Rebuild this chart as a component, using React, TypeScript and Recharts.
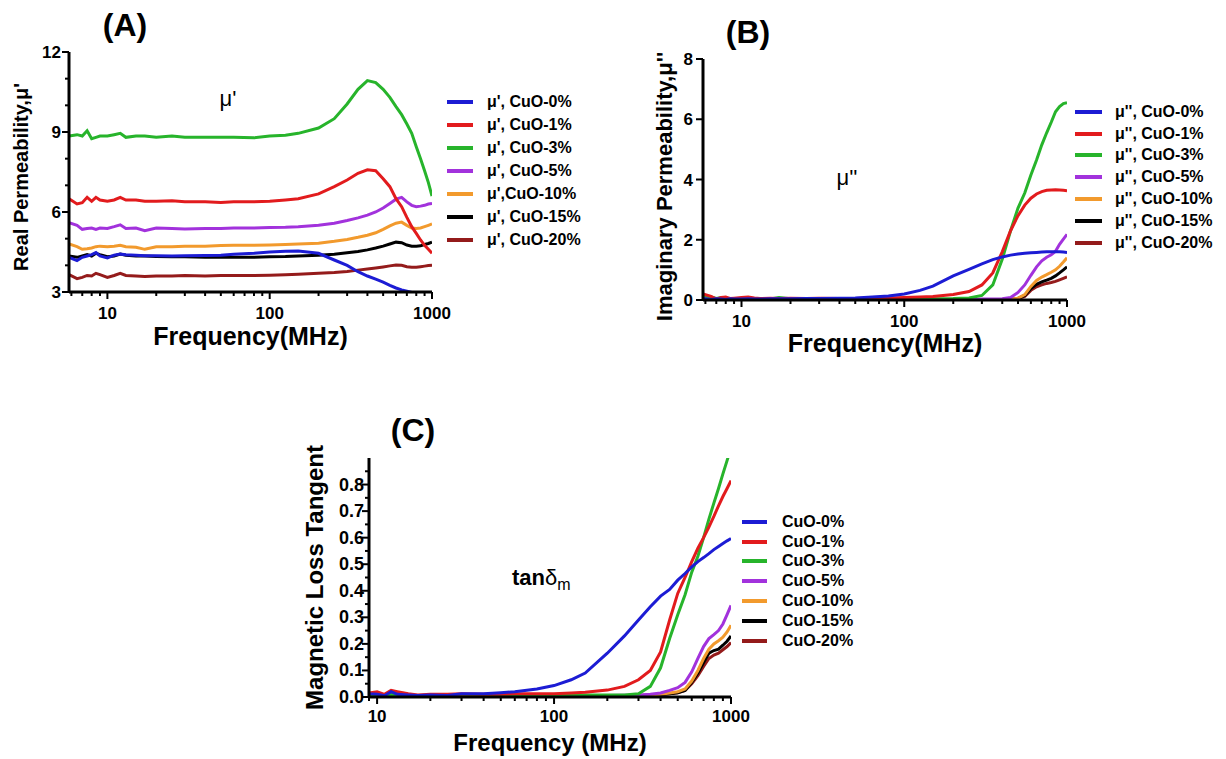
import { Legend, Line, LineChart, XAxis, YAxis } from "recharts";

const FONT = "Arial, 'Liberation Sans', Helvetica, sans-serif";

// frequency grid (MHz), shared by the three panels
const freq = [5.8, 6.5, 7, 7.5, 8, 8.5, 9, 10, 11, 12, 13, 15, 17, 20, 25, 30, 40, 50, 60, 80, 100, 125, 150, 200, 250, 300, 350, 400, 450, 500, 550, 600, 650, 700, 750, 800, 850, 900, 950, 1000];

const names = ["CuO-0%", "CuO-1%", "CuO-3%", "CuO-5%", "CuO-10%", "CuO-15%", "CuO-20%"];
const colors = ["#1c1cd4", "#e21b1d", "#27b42b", "#a232dc", "#f29a2d", "#000000", "#941b1b"];

const legendA = ["μ', CuO-0%", "μ', CuO-1%", "μ', CuO-3%", "μ', CuO-5%", "μ',CuO-10%", "μ', CuO-15%", "μ', CuO-20%"];
const legendB = ["μ'', CuO-0%", "μ'', CuO-1%", "μ'', CuO-3%", "μ'', CuO-5%", "μ'', CuO-10%", "μ'', CuO-15%", "μ'', CuO-20%"];

// (A) real permeability μ'
const realCu0 = [4.3, 4.18, 4.3, 4.35, 4.4, 4.48, 4.35, 4.28, 4.38, 4.42, 4.4, 4.38, 4.36, 4.36, 4.35, 4.36, 4.37, 4.38, 4.42, 4.45, 4.5, 4.53, 4.54, 4.45, 4.2, 4.0, 3.76, 3.6, 3.48, 3.37, 3.25, 3.15, 3.08, 3.03, 2.98, 2.9, 2.82, 2.74, 2.66, 2.58];
const realCu1 = [6.5, 6.3, 6.35, 6.55, 6.4, 6.55, 6.45, 6.4, 6.45, 6.55, 6.45, 6.45, 6.4, 6.4, 6.42, 6.38, 6.38, 6.36, 6.38, 6.38, 6.4, 6.45, 6.5, 6.68, 6.95, 7.2, 7.45, 7.58, 7.55, 7.25, 6.95, 6.5, 6.2, 5.8, 5.45, 5.2, 4.95, 4.75, 4.6, 4.45];
const realCu3 = [8.85, 8.9, 8.85, 9.05, 8.75, 8.8, 8.85, 8.85, 8.9, 8.95, 8.8, 8.85, 8.85, 8.8, 8.85, 8.8, 8.8, 8.8, 8.8, 8.78, 8.85, 8.88, 8.95, 9.15, 9.5, 10.05, 10.6, 10.93, 10.85, 10.6, 10.3, 9.95, 9.65, 9.3, 8.95, 8.45, 8.0, 7.55, 7.1, 6.6];
const realCu5 = [5.6, 5.5, 5.35, 5.38, 5.4, 5.35, 5.4, 5.38, 5.45, 5.52, 5.38, 5.4, 5.3, 5.4, 5.38, 5.36, 5.38, 5.38, 5.4, 5.4, 5.42, 5.43, 5.45, 5.5, 5.58, 5.68, 5.78, 5.88, 6.0, 6.15, 6.32, 6.48, 6.55, 6.38, 6.25, 6.2, 6.22, 6.25, 6.3, 6.32];
const realCu10 = [4.8, 4.7, 4.6, 4.62, 4.65, 4.7, 4.72, 4.7, 4.72, 4.75, 4.7, 4.68, 4.6, 4.7, 4.7, 4.72, 4.72, 4.74, 4.75, 4.75, 4.76, 4.78, 4.8, 4.83, 4.9, 4.97, 5.05, 5.13, 5.22, 5.35, 5.48, 5.58, 5.62, 5.5, 5.4, 5.38, 5.4, 5.45, 5.5, 5.55];
const realCu15 = [4.35, 4.3, 4.35, 4.4, 4.35, 4.45, 4.4, 4.32, 4.35, 4.42, 4.38, 4.35, 4.35, 4.33, 4.32, 4.32, 4.3, 4.3, 4.3, 4.3, 4.32, 4.33, 4.35, 4.38, 4.42, 4.47, 4.52, 4.58, 4.65, 4.72, 4.8, 4.87, 4.85, 4.76, 4.72, 4.72, 4.73, 4.78, 4.82, 4.87];
const realCu20 = [3.65, 3.5, 3.55, 3.62, 3.6, 3.7, 3.65, 3.55, 3.62, 3.7, 3.62, 3.6, 3.58, 3.6, 3.6, 3.62, 3.6, 3.62, 3.62, 3.62, 3.63, 3.65, 3.67, 3.7, 3.73, 3.77, 3.82, 3.86, 3.9, 3.94, 3.98, 4.01, 4.0, 3.95, 3.93, 3.93, 3.95, 3.97, 3.99, 4.0];

// (B) imaginary permeability μ''
const imagCu0 = [0.05, 0.02, 0.04, 0.03, 0.02, 0.04, 0.03, 0.03, 0.04, 0.03, 0.03, 0.04, 0.04, 0.04, 0.05, 0.05, 0.06, 0.07, 0.09, 0.13, 0.2, 0.32, 0.46, 0.8, 1.02, 1.2, 1.34, 1.43, 1.49, 1.53, 1.55, 1.57, 1.58, 1.59, 1.6, 1.6, 1.6, 1.6, 1.59, 1.58];
const imagCu1 = [0.2, 0.12, 0.03, 0.08, 0.1, 0.05, 0.06, 0.08, 0.1, 0.07, 0.05, 0.06, 0.05, 0.06, 0.05, 0.06, 0.05, 0.05, 0.06, 0.07, 0.08, 0.1, 0.12, 0.18, 0.28, 0.5, 0.9, 1.6, 2.3, 2.8, 3.15, 3.38, 3.52, 3.6, 3.64, 3.65, 3.66, 3.65, 3.64, 3.63];
const imagCu3 = [0.15, 0.1, 0.05, 0.08, 0.03, 0.05, 0.04, 0.05, 0.06, 0.04, 0.05, 0.03, 0.08, 0.04, 0.04, 0.03, 0.03, 0.03, 0.03, 0.03, 0.03, 0.03, 0.04, 0.05, 0.07, 0.15, 0.5, 1.35, 2.3, 3.05, 3.55, 4.15, 4.65, 5.15, 5.55, 5.9, 6.25, 6.42, 6.52, 6.55];
const imagCu5 = [0.1, 0.05, 0.03, 0.04, 0.02, 0.03, 0.03, 0.02, 0.03, 0.04, 0.02, 0.03, 0.02, 0.02, 0.02, 0.02, 0.02, 0.02, 0.02, 0.02, 0.02, 0.02, 0.02, 0.02, 0.02, 0.03, 0.03, 0.04, 0.08, 0.25, 0.5, 0.82, 1.1, 1.3, 1.42, 1.5, 1.62, 1.85, 2.02, 2.18];
const imagCu10 = [0.08, 0.04, 0.02, 0.03, 0.02, 0.02, 0.03, 0.02, 0.02, 0.03, 0.02, 0.02, 0.02, 0.02, 0.02, 0.02, 0.02, 0.02, 0.02, 0.02, 0.02, 0.02, 0.02, 0.02, 0.02, 0.02, 0.02, 0.02, 0.03, 0.06, 0.18, 0.45, 0.65, 0.76, 0.84, 0.92, 1.0, 1.12, 1.26, 1.4];
const imagCu15 = [0.06, 0.03, 0.02, 0.02, 0.02, 0.02, 0.02, 0.02, 0.02, 0.02, 0.02, 0.02, 0.02, 0.02, 0.02, 0.02, 0.02, 0.02, 0.02, 0.02, 0.02, 0.02, 0.02, 0.02, 0.02, 0.02, 0.02, 0.02, 0.02, 0.05, 0.15, 0.38, 0.52, 0.6, 0.66, 0.72, 0.8, 0.9, 1.0, 1.1];
const imagCu20 = [0.05, 0.03, 0.02, 0.02, 0.02, 0.02, 0.02, 0.02, 0.02, 0.02, 0.02, 0.02, 0.02, 0.02, 0.02, 0.02, 0.02, 0.02, 0.02, 0.02, 0.02, 0.02, 0.02, 0.02, 0.02, 0.02, 0.02, 0.02, 0.02, 0.04, 0.12, 0.32, 0.44, 0.5, 0.55, 0.58, 0.62, 0.67, 0.72, 0.77];

// (C) magnetic loss tangent
const tanCu0 = [0.01, 0.01, 0.01, 0.01, 0.01, 0.015, 0.012, 0.01, 0.005, 0.02, 0.01, 0.008, 0.006, 0.008, 0.006, 0.012, 0.012, 0.016, 0.02, 0.03, 0.043, 0.065, 0.09, 0.165, 0.23, 0.29, 0.34, 0.38, 0.405, 0.44, 0.465, 0.49, 0.51, 0.525, 0.54, 0.555, 0.567, 0.578, 0.588, 0.597];
const tanCu1 = [0.02, 0.015, 0.01, 0.02, 0.015, 0.01, 0.015, 0.02, 0.01, 0.025, 0.02, 0.012, 0.008, 0.01, 0.01, 0.012, 0.01, 0.01, 0.012, 0.012, 0.012, 0.015, 0.018, 0.026, 0.04, 0.065, 0.1, 0.17, 0.29, 0.39, 0.45, 0.51, 0.56, 0.6, 0.64, 0.68, 0.72, 0.755, 0.785, 0.815];
const tanCu3 = [0.01, 0.008, 0.01, 0.005, 0.008, 0.006, 0.008, 0.005, 0.006, 0.01, 0.008, 0.005, 0.004, 0.006, 0.005, 0.006, 0.004, 0.005, 0.005, 0.006, 0.006, 0.007, 0.008, 0.008, 0.008, 0.012, 0.04, 0.11, 0.22, 0.31, 0.385, 0.47, 0.53, 0.6, 0.67, 0.73, 0.785, 0.84, 0.89, 0.94];
const tanCu5 = [0.008, 0.005, 0.006, 0.005, 0.005, 0.004, 0.005, 0.005, 0.004, 0.006, 0.005, 0.004, 0.004, 0.004, 0.004, 0.004, 0.004, 0.004, 0.005, 0.005, 0.005, 0.005, 0.006, 0.006, 0.007, 0.008, 0.01, 0.015, 0.025, 0.035, 0.055, 0.095, 0.145, 0.19, 0.22, 0.235, 0.25, 0.275, 0.31, 0.345];
const tanCu10 = [0.006, 0.004, 0.005, 0.004, 0.004, 0.004, 0.004, 0.004, 0.004, 0.005, 0.004, 0.004, 0.004, 0.004, 0.004, 0.004, 0.004, 0.004, 0.004, 0.004, 0.004, 0.004, 0.005, 0.005, 0.005, 0.006, 0.008, 0.01, 0.015, 0.02, 0.03, 0.06, 0.1, 0.145, 0.18, 0.2, 0.212, 0.225, 0.245, 0.27];
const tanCu15 = [0.005, 0.004, 0.004, 0.004, 0.004, 0.004, 0.004, 0.004, 0.004, 0.004, 0.004, 0.004, 0.004, 0.004, 0.004, 0.004, 0.004, 0.004, 0.004, 0.004, 0.004, 0.004, 0.004, 0.005, 0.005, 0.005, 0.007, 0.009, 0.012, 0.016, 0.025, 0.055, 0.09, 0.13, 0.165, 0.175, 0.18, 0.195, 0.21, 0.23];
const tanCu20 = [0.005, 0.004, 0.004, 0.004, 0.004, 0.004, 0.004, 0.004, 0.004, 0.004, 0.004, 0.004, 0.004, 0.004, 0.004, 0.004, 0.004, 0.004, 0.004, 0.004, 0.004, 0.004, 0.004, 0.005, 0.005, 0.005, 0.007, 0.009, 0.012, 0.016, 0.025, 0.05, 0.08, 0.115, 0.145, 0.158, 0.165, 0.178, 0.19, 0.205];

const majorX = [10, 100, 1000];
const minorX = [6, 7, 8, 9, 20, 30, 40, 50, 60, 70, 80, 90, 200, 300, 400, 500, 600, 700, 800, 900];
const minorXC = [9, 20, 30, 40, 50, 60, 70, 80, 90, 200, 300, 400, 500, 600, 700, 800, 900];

const yMajorA = [3, 6, 9, 12];
const yMinorA = [4, 5, 7, 8, 10, 11];
const yMajorB = [0, 2, 4, 6, 8];
const yMajorC = [0, 0.1, 0.2, 0.3, 0.4, 0.5, 0.6, 0.7, 0.8];
const yMinorC = [0.05, 0.15, 0.25, 0.35, 0.45, 0.55, 0.65, 0.75, 0.85];

type Row = Record<string, number>;

function buildRows(series: number[][]): Row[] {
  return freq.map((f, i) => {
    const row: Row = { f };
    series.forEach((s, k) => {
      row[`s${k}`] = s[i];
    });
    return row;
  });
}

interface LegendSpec { left: number; top: number; row: number; line: number; gap: number }

function LegendBox({ labels, spec }: { labels: string[]; spec: LegendSpec }) {
  return (
    <div style={{ fontFamily: FONT }}>
      {labels.map((label, i) => (
        <div key={label} style={{ display: "flex", alignItems: "center", height: spec.row }}>
          <div style={{ width: spec.line, height: 4, background: colors[i], flex: "none" }} />
          <span style={{ marginLeft: spec.gap, fontSize: 16, fontWeight: 700, color: "#000", whiteSpace: "nowrap" }}>{label}</span>
        </div>
      ))}
    </div>
  );
}

interface PanelProps {
  left: number;
  top: number;
  width: number;
  height: number;
  margin: { top: number; right: number; bottom: number; left: number };
  yWidth: number;
  xHeight: number;
  series: number[][];
  labels: string[];
  xDomain: [number, number];
  xMinor: number[];
  xLabelDy: number;
  yDomain: [number, number];
  yMajor: number[];
  yMinor: number[];
  yDigits: number;
  yLabelGap: number;
  yTickFont: number;
  xTitle: string;
  xTitleDy: number;
  xTitleFont: number;
  yTitle: string;
  yTitleX: number;
  yTitleShift: number;
  yTitleFont: number;
  legend: LegendSpec;
}

function Panel(p: PanelProps) {
  const data = buildRows(p.series);
  const order = [6, 5, 4, 3, 2, 1, 0];

  const XTick = (props: any) => {
    const { x, y, payload } = props;
    const major = majorX.includes(payload.value);
    return (
      <g>
        <line x1={x} x2={x} y1={y} y2={y + (major ? 7 : 4)} stroke="#000" strokeWidth={2} />
        {major && (
          <text x={x} y={y + p.xLabelDy} textAnchor="middle" fontFamily={FONT} fontWeight={700} fontSize={17} fill="#000">
            {payload.value}
          </text>
        )}
      </g>
    );
  };

  const YTick = (props: any) => {
    const { x, y, payload } = props;
    const v = payload.value as number;
    const major = p.yMajor.some((m) => Math.abs(m - v) < 1e-9);
    return (
      <g>
        <line x1={x} x2={x - (major ? 7 : 4)} y1={y} y2={y} stroke="#000" strokeWidth={2} />
        {major && (
          <text x={x - p.yLabelGap} y={y} dy={6} textAnchor="end" fontFamily={FONT} fontWeight={700} fontSize={p.yTickFont} fill="#000">
            {v.toFixed(p.yDigits)}
          </text>
        )}
      </g>
    );
  };

  const XTitle = (props: any) => {
    const vb = props.viewBox;
    return (
      <text x={vb.x + vb.width / 2} y={vb.y + p.xTitleDy} textAnchor="middle" fontFamily={FONT} fontWeight={700} fontSize={p.xTitleFont} fill="#000">
        {p.xTitle}
      </text>
    );
  };

  const YTitle = (props: any) => {
    const vb = props.viewBox;
    const cy = vb.y + vb.height / 2 + p.yTitleShift;
    return (
      <text x={p.yTitleX} y={cy} transform={`rotate(-90, ${p.yTitleX}, ${cy})`} textAnchor="middle" fontFamily={FONT} fontWeight={700} fontSize={p.yTitleFont} fill="#000">
        {p.yTitle}
      </text>
    );
  };

  return (
    <div style={{ position: "absolute", left: p.left, top: p.top }}>
      <LineChart width={p.width} height={p.height} data={data} margin={p.margin}>
        {order.map((k) => (
          <Line
            key={k}
            type="linear"
            dataKey={`s${k}`}
            name={names[k]}
            stroke={colors[k]}
            strokeWidth={3}
            dot={false}
            isAnimationActive={false}
          />
        ))}
        <XAxis
          dataKey="f"
          type="number"
          scale="log"
          domain={p.xDomain}
          allowDataOverflow
          ticks={[...p.xMinor, ...majorX]}
          interval={0}
          tick={XTick}
          tickSize={0}
          tickMargin={0}
          tickLine={false}
          axisLine={{ stroke: "#000", strokeWidth: 3 }}
          height={p.xHeight}
          label={{ content: XTitle }}
        />
        <XAxis
          xAxisId="top"
          orientation="top"
          type="number"
          scale="log"
          domain={p.xDomain}
          allowDataOverflow
          tick={false}
          tickLine={false}
          height={0}
          axisLine={{ stroke: "#000", strokeWidth: 3 }}
        />
        <YAxis
          type="number"
          domain={p.yDomain}
          allowDataOverflow
          ticks={[...p.yMinor, ...p.yMajor]}
          interval={0}
          tick={YTick}
          tickSize={0}
          tickMargin={0}
          tickLine={false}
          axisLine={{ stroke: "#000", strokeWidth: 3 }}
          width={p.yWidth}
          label={{ content: YTitle }}
        />
        <YAxis
          yAxisId="right"
          orientation="right"
          type="number"
          domain={p.yDomain}
          allowDataOverflow
          tick={false}
          tickLine={false}
          width={0}
          axisLine={{ stroke: "#000", strokeWidth: 3 }}
        />
        <Legend
          layout="horizontal"
          verticalAlign="middle"
          align="center"
          wrapperStyle={{ left: p.legend.left, top: p.legend.top, width: 170 }}
          content={() => <LegendBox labels={p.labels} spec={p.legend} />}
        />
      </LineChart>
    </div>
  );
}

export default function App() {
  return (
    <div style={{ position: "absolute", left: 0, top: 0, width: 1226, height: 759, background: "#fff", overflow: "hidden" }}>
      <Panel
        left={0}
        top={0}
        width={620}
        height={360}
        margin={{ top: 52, right: 188, bottom: 0, left: 0 }}
        yWidth={69}
        xHeight={68}
        series={[realCu0, realCu1, realCu3, realCu5, realCu10, realCu15, realCu20]}
        labels={legendA}
        xDomain={[5.8, 1000]}
        xMinor={minorX}
        xLabelDy={27}
        yDomain={[3, 12]}
        yMajor={yMajorA}
        yMinor={yMinorA}
        yDigits={0}
        yLabelGap={8}
        yTickFont={17}
        xTitle="Frequency(MHz)"
        xTitleDy={53}
        xTitleFont={25}
        yTitle="Real Permeability,μ'"
        yTitleX={28}
        yTitleShift={5}
        yTitleFont={20}
        legend={{ left: 447, top: 90, row: 23, line: 26, gap: 14 }}
      />
      <Panel
        left={620}
        top={0}
        width={606}
        height={360}
        margin={{ top: 59, right: 159, bottom: 0, left: 0 }}
        yWidth={83}
        xHeight={60}
        series={[imagCu0, imagCu1, imagCu3, imagCu5, imagCu10, imagCu15, imagCu20]}
        labels={legendB}
        xDomain={[5.8, 1000]}
        xMinor={minorX}
        xLabelDy={27}
        yDomain={[0, 8]}
        yMajor={yMajorB}
        yMinor={[]}
        yDigits={0}
        yLabelGap={10}
        yTickFont={17}
        xTitle="Frequency(MHz)"
        xTitleDy={52}
        xTitleFont={25}
        yTitle="Imaginary Permeability,μ''"
        yTitleX={52}
        yTitleShift={7}
        yTitleFont={22}
        legend={{ left: 455, top: 101, row: 21.8, line: 27, gap: 13 }}
      />
      <Panel
        left={280}
        top={400}
        width={610}
        height={359}
        margin={{ top: 58, right: 159, bottom: 0, left: 0 }}
        yWidth={89}
        xHeight={62}
        series={[tanCu0, tanCu1, tanCu3, tanCu5, tanCu10, tanCu15, tanCu20]}
        labels={names}
        xDomain={[9, 1000]}
        xMinor={minorXC}
        xLabelDy={25}
        yDomain={[0, 0.9]}
        yMajor={yMajorC}
        yMinor={yMinorC}
        yDigits={1}
        yLabelGap={5}
        yTickFont={18}
        xTitle="Frequency (MHz)"
        xTitleDy={54}
        xTitleFont={24}
        yTitle="Magnetic Loss Tangent"
        yTitleX={43}
        yTitleShift={0}
        yTitleFont={24}
        legend={{ left: 462, top: 112, row: 19.8, line: 25, gap: 15 }}
      />
      <svg width={1226} height={759} style={{ position: "absolute", left: 0, top: 0, pointerEvents: "none" }}>
        <g fontFamily={FONT} fill="#000">
          <text x={125} y={36} textAnchor="middle" fontSize={32} fontWeight={700}>(A)</text>
          <text x={748} y={43} textAnchor="middle" fontSize={32} fontWeight={700}>(B)</text>
          <text x={413} y={441} textAnchor="middle" fontSize={32} fontWeight={700}>(C)</text>
          <text x={228} y={106} textAnchor="middle" fontSize={22}>μ'</text>
          <text x={847} y={185} textAnchor="middle" fontSize={22}>μ''</text>
          <text x={512} y={585} fontSize={22} fontWeight={700}>
            tan<tspan fontWeight={400}>δ</tspan>
            <tspan fontSize={16} fontWeight={400} dy={5}>m</tspan>
          </text>
        </g>
      </svg>
    </div>
  );
}
